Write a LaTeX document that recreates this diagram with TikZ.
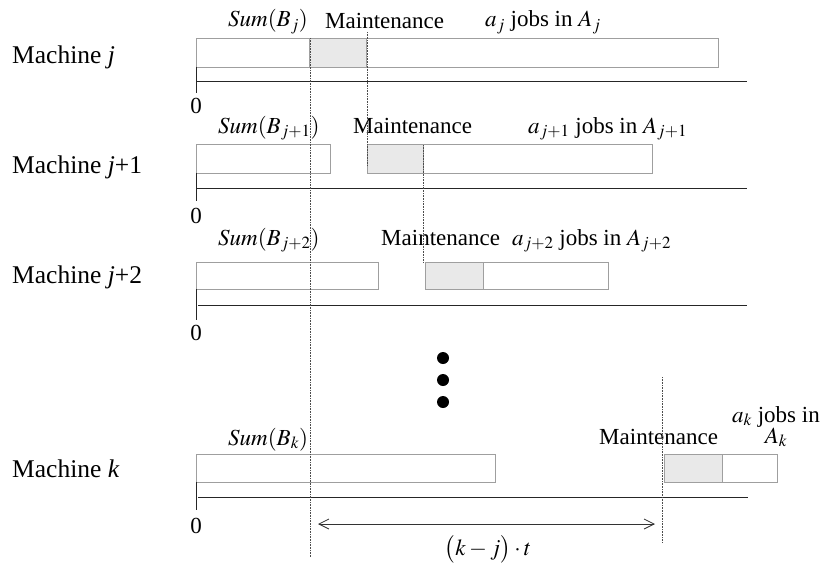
\documentclass[tikz,border=0pt]{standalone}
\usepackage{mathptmx}
\usepackage{fontspec}
\setmainfont{Liberation Serif}
\usetikzlibrary{arrows.meta}

\begin{document}
\begin{tikzpicture}[x = 1pt, y = -1pt]
	\useasboundingbox (0, 0) rectangle (824, 570);

	% Styles for the boxes, the time axes and the texts
	\tikzset{
		job box/.style = {draw = gray!75, line width = 0.8pt, fill = white},
		maint box/.style = {draw = gray!75, line width = 0.8pt, fill = gray!17},
		time axis/.style = {draw = black!85, line width = 0.8pt},
		guide line/.style = {densely dotted, line width = 0.6pt, black!70},
		txt/.style = {inner sep = 0pt, font = \fontsize{23}{21}\selectfont},
		machine/.style = {inner sep = 0pt, anchor = base west, font = \fontsize{25.5}{28}\selectfont}
	}

	% Machine j
	\node[machine] (mj) at (12, 63) {Machine \textit{j}};
	\draw[job box] (196, 38) rectangle (718, 67);
	\draw[maint box] (309, 38) rectangle (366, 67);
	\draw[time axis] (196, 67)--(196, 93);
	\draw[time axis] (196, 81)--(747, 81);
	\node[txt, anchor = base] (zj) at (196, 113) {0};
	\node[txt, anchor = base west] (sj) at (228, 27) {$\mathit{Sum}(B_j)$};
	\node[txt, anchor = base west] (mtj) at (325, 28) {Maintenance};
	\node[txt, anchor = base west] (aj) at (485, 27) {$a_j$ jobs in $A_j$};

	% Machine j+1
	\node[machine] (mj1) at (12, 173) {Machine \textit{j}+1};
	\draw[job box] (196, 144) rectangle (330, 173);
	\draw[maint box] (367, 144) rectangle (423, 173);
	\draw[job box] (423, 144) rectangle (652, 173);
	\draw[time axis] (196, 173)--(196, 201);
	\draw[time axis] (196, 188)--(747, 188);
	\node[txt, anchor = base] (zj1) at (196, 223) {0};
	\node[txt, anchor = base west] (sj1) at (218, 133) {$\mathit{Sum}(B_{j+1})$};
	\node[txt, anchor = base west] (mtj1) at (353, 133) {Maintenance};
	\node[txt, anchor = base west] (aj1) at (528, 133) {$a_{j+1}$ jobs in $A_{j+1}$};

	% Machine j+2
	\node[machine] (mj2) at (12, 283) {Machine \textit{j}+2};
	\draw[job box] (196, 262) rectangle (378, 289);
	\draw[maint box] (425, 262) rectangle (483, 289);
	\draw[job box] (483, 262) rectangle (608, 289);
	\draw[time axis] (196, 289)--(196, 320);
	\draw[time axis] (198, 305)--(747, 305);
	\node[txt, anchor = base] (zj2) at (196, 340) {0};
	\node[txt, anchor = base west] (sj2) at (218, 245) {$\mathit{Sum}(B_{j+2})$};
	\node[txt, anchor = base west] (mtj2) at (381, 245) {Maintenance};
	\node[txt, anchor = base west] (aj2) at (512, 245) {$a_{j+2}$ jobs in $A_{j+2}$};

	% The dots between the machines
	\fill (443, 358) circle (6pt);
	\fill (443, 380) circle (6pt);
	\fill (443, 402) circle (6pt);

	% Machine k
	\node[machine] (mk) at (12, 477) {Machine \textit{k}};
	\draw[job box] (196, 454) rectangle (495, 482);
	\draw[maint box] (664, 454) rectangle (722, 482);
	\draw[job box] (722, 454) rectangle (777, 482);
	\draw[time axis] (196, 482)--(196, 510);
	\draw[time axis] (198, 497)--(748, 497);
	\node[txt, anchor = base] (zk) at (196, 533) {0};
	\node[txt, anchor = base west] (sk) at (228, 445) {$\mathit{Sum}(B_k)$};
	\node[txt, anchor = base west] (mtk) at (599, 444) {Maintenance};
	\node[txt, anchor = north, align = center] (ak) at (776, 406) {$a_k$ jobs in\\$A_k$};

	% Dotted guide lines
	\draw[guide line] (310, 38)--(310, 557);
	\draw[guide line] (367, 32)--(367, 165);
	\draw[guide line] (423, 145)--(423, 262);
	\draw[guide line] (662, 377)--(662, 543);

	% The shift between machine j and machine k
	\coordinate (shift start) at (318, 524);
	\coordinate (shift end) at (655, 524);
	\draw[{Straight Barb[length = 10pt, width = 10pt]}-{Straight Barb[length = 10pt, width = 10pt]}, line width = 0.8pt, black!80] (shift start)--(shift end);
	\node[txt, anchor = base] (shift) at (488, 555) {$\bigl(k-j\bigr)\cdot t$};
\end{tikzpicture}
\end{document}
